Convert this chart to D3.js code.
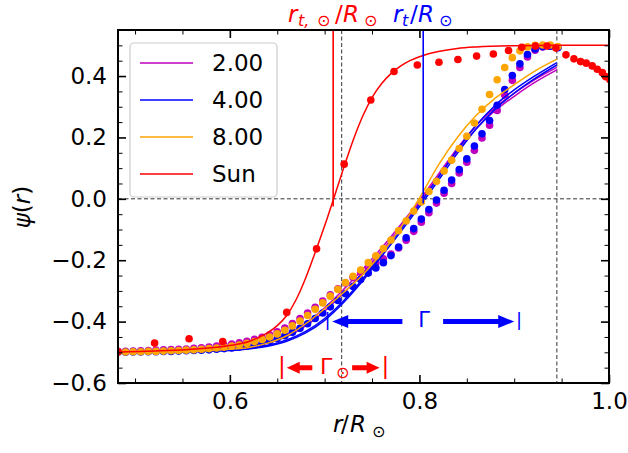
<!DOCTYPE html>
<html>
<head>
<meta charset="utf-8">
<script src="https://cdn.jsdelivr.net/npm/d3@7"></script>
<style>
  body { margin: 0; background: #fff; }
  svg text { font-family: "DejaVu Sans", sans-serif; fill: #000; }
</style>
</head>
<body>
<svg id="chart" width="628" height="453"></svg>
<script>
// radial grid of the model profiles (r / R_sun)
const rGrid = [0.482,0.490,0.498,0.506,0.514,0.522,0.530,0.538,0.546,0.554,
               0.562,0.570,0.578,0.586,0.594,0.602,0.610,0.618,0.626,0.634,
               0.642,0.650,0.658,0.666,0.674,0.682,0.690,0.698,0.706,0.714,
               0.722,0.730,0.738,0.746,0.754,0.762,0.770,0.778,0.786,0.794,
               0.802,0.810,0.818,0.826,0.834,0.842,0.850,0.858,0.866,0.874,
               0.882,0.890,0.898,0.906,0.914,0.922,0.930,0.938,0.946];

// psi(r) of the models (dots)
const psi2 = [-0.497,-0.497,-0.496,-0.495,-0.494,-0.493,-0.492,-0.491,-0.490,-0.489,
              -0.487,-0.485,-0.483,-0.480,-0.477,-0.473,-0.469,-0.464,-0.458,-0.451,
              -0.443,-0.433,-0.421,-0.406,-0.390,-0.372,-0.353,-0.333,-0.313,-0.293,
              -0.274,-0.256,-0.239,-0.223,-0.208,-0.195,-0.180,-0.160,-0.135,-0.106,
              -0.076,-0.045,-0.014,0.018,0.050,0.084,0.119,0.158,0.198,0.240,
              0.288,0.338,0.386,0.428,0.462,0.484,0.495,0.498,0.494];
const psi4 = [-0.500,-0.500,-0.499,-0.499,-0.498,-0.498,-0.497,-0.497,-0.496,-0.495,
              -0.494,-0.493,-0.492,-0.490,-0.488,-0.486,-0.483,-0.479,-0.475,-0.470,
              -0.463,-0.455,-0.446,-0.435,-0.422,-0.407,-0.390,-0.372,-0.352,-0.331,
              -0.309,-0.286,-0.263,-0.242,-0.225,-0.208,-0.185,-0.157,-0.127,-0.097,
              -0.066,-0.035,-0.004,0.028,0.061,0.095,0.130,0.172,0.212,0.255,
              0.305,0.356,0.402,0.440,0.470,0.488,0.496,0.497,0.492];
const psi8 = [-0.499,-0.499,-0.498,-0.498,-0.497,-0.497,-0.496,-0.495,-0.494,-0.493,
              -0.492,-0.490,-0.488,-0.486,-0.483,-0.480,-0.476,-0.471,-0.465,-0.458,
              -0.450,-0.440,-0.428,-0.414,-0.398,-0.380,-0.360,-0.339,-0.317,-0.295,
              -0.273,-0.252,-0.232,-0.208,-0.186,-0.162,-0.134,-0.104,-0.072,-0.040,
              -0.010,0.024,0.057,0.091,0.126,0.164,0.204,0.247,0.292,0.340,
              0.388,0.428,0.460,0.482,0.495,0.500,0.501,0.501,0.496];

// fitted profiles (solid lines)
const rFit = [0.482,0.52,0.56,0.60,0.62,0.64,0.66,0.68,0.70,0.72,0.74,0.76,0.78,0.80,0.82,0.84,0.86,0.88,0.90,0.92,0.945];
const fit2a = [-0.498,-0.497,-0.494,-0.486,-0.478,-0.465,-0.442,-0.405,-0.355,-0.295,-0.230,-0.160,-0.085,-0.005,0.080,0.165,0.240,0.298,0.344,0.385,0.428];
const fit2b = [-0.499,-0.498,-0.496,-0.489,-0.482,-0.470,-0.449,-0.414,-0.366,-0.307,-0.242,-0.170,-0.093,-0.012,0.072,0.155,0.229,0.288,0.334,0.376,0.420];
const fit4a = [-0.500,-0.499,-0.497,-0.492,-0.487,-0.477,-0.460,-0.432,-0.390,-0.332,-0.262,-0.180,-0.100,-0.018,0.070,0.160,0.240,0.305,0.355,0.397,0.444];
const fit4b = [-0.500,-0.500,-0.498,-0.494,-0.489,-0.480,-0.464,-0.437,-0.396,-0.338,-0.268,-0.188,-0.108,-0.026,0.060,0.148,0.228,0.293,0.344,0.388,0.436];
const fit8 = [-0.500,-0.499,-0.497,-0.490,-0.484,-0.470,-0.446,-0.407,-0.358,-0.305,-0.248,-0.178,-0.095,0.002,0.110,0.200,0.272,0.328,0.372,0.413,0.455];

// the Sun: fit and helioseismic points
const sunFitR = [0.482,0.52,0.56,0.60,0.62,0.63,0.64,0.65,0.66,0.67,0.68,0.69,0.70,0.71,0.72,0.73,0.74,0.75,0.76,0.77,0.78,0.79,0.80,0.82,0.84,0.86,0.90,0.95,1.00];
const sunFit = [-0.499,-0.496,-0.490,-0.478,-0.465,-0.452,-0.436,-0.413,-0.380,-0.328,-0.258,-0.175,-0.088,0.005,0.100,0.190,0.268,0.330,0.375,0.408,0.432,0.450,0.463,0.480,0.490,0.495,0.499,0.500,0.500];
const sunR = [0.482,0.5206,0.557,0.5925,0.660,0.6915,0.7206,0.7487,0.7732,0.7978,0.8206,0.8406,0.8603,0.878,0.894,0.908,0.9224,0.9346,0.944,0.9546,0.963,0.970,0.976,0.9823,0.9876,0.993,0.9965,1.001];
const sunPsi = [-0.498,-0.470,-0.456,-0.465,-0.370,-0.163,0.113,0.322,0.415,0.436,0.445,0.454,0.465,0.472,0.483,0.494,0.498,0.498,0.491,0.469,0.456,0.447,0.442,0.433,0.422,0.411,0.398,0.388];

const legendLabels = ["2.00", "4.00", "8.00", "Sun"];
const xTicks = [0.6, 0.8, 1.0];
const xMinor = [0.5, 0.55, 0.65, 0.7, 0.75, 0.85, 0.9, 0.95];
const yTicks = [-0.6, -0.4, -0.2, 0.0, 0.2, 0.4];
const yMinor = [-0.55, -0.5, -0.45, -0.35, -0.3, -0.25, -0.15, -0.1, -0.05, 0.05, 0.1, 0.15, 0.25, 0.3, 0.35, 0.45, 0.5];

const rtSun = 0.709, rtModel = 0.804;   // where psi = 0
const rTacho = 0.718, rEdge = 0.945;    // dashed reference radii

const colM = "#bf00bf", colB = "#0000ff", colO = "#ffa500", colR = "#ff0000";

const svg = d3.select("#chart");
const pL = 118, pR = 609, pT = 30, pB = 383;

const x = d3.scaleLinear().domain([0.482, 1.0]).range([pL, pR]);
const y = d3.scaleLinear().domain([-0.6, 0.55]).range([pB, pT]);

svg.append("defs").append("clipPath").attr("id", "plotclip")
    .append("rect").attr("x", pL).attr("y", pT)
    .attr("width", pR - pL).attr("height", pB - pT);

const plot = svg.append("g").attr("clip-path", "url(#plotclip)");

// dashed reference lines
plot.append("line")
    .attr("x1", pL).attr("x2", pR).attr("y1", y(0)).attr("y2", y(0))
    .attr("stroke", "#333").attr("stroke-width", 1).attr("stroke-dasharray", "4,2.5");
[rTacho, rEdge].forEach(r => {
    plot.append("line")
        .attr("x1", x(r)).attr("x2", x(r)).attr("y1", pT).attr("y2", pB)
        .attr("stroke", "#333").attr("stroke-width", 1).attr("stroke-dasharray", "4,2.5");
});

const line = d3.line().x(d => x(d[0])).y(d => y(d[1])).curve(d3.curveMonotoneX);

function drawModel(dots, fits, color) {
    plot.append("g").selectAll("circle")
        .data(rGrid.map((r, i) => [r, dots[i]]))
        .enter().append("circle")
        .attr("cx", d => x(d[0])).attr("cy", d => y(d[1]))
        .attr("r", 3.8).attr("fill", color);
    fits.forEach(f => {
        plot.append("path")
            .datum(rFit.map((r, i) => [r, f[i]]))
            .attr("d", line).attr("fill", "none")
            .attr("stroke", color).attr("stroke-width", 1.5);
    });
}

drawModel(psi2, [fit2a, fit2b], colM);
drawModel(psi4, [fit4a, fit4b], colB);
drawModel(psi8, [fit8], colO);

// Sun
plot.append("path")
    .datum(sunFitR.map((r, i) => [r, sunFit[i]]))
    .attr("d", line).attr("fill", "none")
    .attr("stroke", colR).attr("stroke-width", 1.5);
plot.append("g").selectAll("circle")
    .data(sunR.map((r, i) => [r, sunPsi[i]]))
    .enter().append("circle")
    .attr("cx", d => x(d[0])).attr("cy", d => y(d[1]))
    .attr("r", 3.8).attr("fill", colR);

// transition radii
plot.append("line").attr("x1", x(rtSun)).attr("x2", x(rtSun))
    .attr("y1", pT).attr("y2", y(-0.025))
    .attr("stroke", colR).attr("stroke-width", 1.6);
plot.append("line").attr("x1", x(rtModel)).attr("x2", x(rtModel))
    .attr("y1", pT).attr("y2", y(-0.015))
    .attr("stroke", colB).attr("stroke-width", 1.6);

// width arrows
function arrow(x0, x1, yv, color, w, h, hl) {
    const px0 = x(x0), px1 = x(x1), py = y(yv);
    const dir = Math.sign(px1 - px0);
    const hb = px1 - dir * hl;
    const pts = [[px0, py - w], [hb, py - w], [hb, py - h], [px1, py],
                 [hb, py + h], [hb, py + w], [px0, py + w]];
    svg.append("polygon").attr("points", pts.map(p => p.join(",")).join(" "))
        .attr("fill", color);
}
function bar(xv, yv, size, color) {
    svg.append("text").attr("x", x(xv)).attr("y", y(yv) + 0.262 * size)
        .attr("text-anchor", "middle").style("font-size", size + "px")
        .style("fill", color).text("|");
}

// model width Gamma
bar(0.703, -0.40, 18, colB);
bar(0.905, -0.40, 18, colB);
arrow(0.782, 0.708, -0.40, colB, 2.5, 6.5, 16);
arrow(0.825, 0.900, -0.40, colB, 2.5, 6.5, 16);
svg.append("text").attr("x", x(0.805)).attr("y", y(-0.40) + 5.5)
    .attr("text-anchor", "middle").style("font-size", "21px").style("fill", colB).text("Γ");

// solar width Gamma_sun
bar(0.655, -0.55, 23, colR);
bar(0.764, -0.55, 23, colR);
arrow(0.687, 0.660, -0.55, colR, 2.5, 6, 13);
arrow(0.729, 0.758, -0.55, colR, 2.5, 6, 13);
svg.append("text").attr("x", 320).attr("y", 373.5)
    .style("font-size", "22px").style("fill", colR).text("Γ");
svg.append("text").attr("x", 336).attr("y", 378)
    .style("font-size", "16px").style("fill", colR).text("⊙");

// axes with inward ticks on all sides
function styleAxis(g) {
    g.select(".domain").remove();
    g.selectAll(".tick line").attr("stroke", "#000");
    g.selectAll("text").style("font-size", "23px").style("fill", "#000")
        .style("font-family", "DejaVu Sans");
}
const fmt = d3.format(".1f");
const minus = d => fmt(d).replace("-", "\u2212");

svg.append("g").attr("transform", `translate(0,${pB})`)
    .call(d3.axisBottom(x).tickValues(xTicks).tickSize(-8).tickPadding(10).tickFormat(fmt))
    .call(styleAxis).selectAll(".tick line").attr("stroke-width", 1.6);
svg.append("g").attr("transform", `translate(0,${pB})`)
    .call(d3.axisBottom(x).tickValues(xMinor).tickSize(-4.5).tickFormat(""))
    .call(styleAxis);
svg.append("g").attr("transform", `translate(0,${pT})`)
    .call(d3.axisTop(x).tickValues(xTicks).tickSize(-8).tickFormat(""))
    .call(styleAxis).selectAll(".tick line").attr("stroke-width", 1.6);
svg.append("g").attr("transform", `translate(0,${pT})`)
    .call(d3.axisTop(x).tickValues(xMinor).tickSize(-4.5).tickFormat(""))
    .call(styleAxis);

svg.append("g").attr("transform", `translate(${pL},0)`)
    .call(d3.axisLeft(y).tickValues(yTicks).tickSize(-8).tickPadding(11).tickFormat(minus))
    .call(styleAxis).selectAll(".tick line").attr("stroke-width", 1.6);
svg.append("g").attr("transform", `translate(${pL},0)`)
    .call(d3.axisLeft(y).tickValues(yMinor).tickSize(-4.5).tickFormat(""))
    .call(styleAxis);
svg.append("g").attr("transform", `translate(${pR},0)`)
    .call(d3.axisRight(y).tickValues(yTicks).tickSize(-8).tickFormat(""))
    .call(styleAxis).selectAll(".tick line").attr("stroke-width", 1.6);
svg.append("g").attr("transform", `translate(${pR},0)`)
    .call(d3.axisRight(y).tickValues(yMinor).tickSize(-4.5).tickFormat(""))
    .call(styleAxis);

// frame
svg.append("rect").attr("x", pL).attr("y", pT)
    .attr("width", pR - pL).attr("height", pB - pT)
    .attr("fill", "none").attr("stroke", "#000").attr("stroke-width", 2);

// legend
const legend = svg.append("g");
legend.append("rect").attr("x", 130).attr("y", 43).attr("width", 147).attr("height", 154)
    .attr("rx", 4).attr("fill", "#fff").attr("fill-opacity", 0.8)
    .attr("stroke", "#ccc").attr("stroke-width", 1.2);
const legendColors = [colM, colB, colO, colR];
legendLabels.forEach((lab, i) => {
    const ly = 63 + i * 37;
    legend.append("line").attr("x1", 140).attr("x2", 193).attr("y1", ly).attr("y2", ly)
        .attr("stroke", legendColors[i]).attr("stroke-width", 1.5);
    legend.append("text").attr("x", 212).attr("y", ly + 8.4)
        .style("font-size", "23px").text(lab);
});

// math labels
function piece(px, py, str, size, color, italic) {
    svg.append("text").attr("x", px).attr("y", py)
        .style("font-size", size + "px").style("fill", color)
        .style("font-style", italic ? "italic" : "normal").text(str);
}
// r_{t,sun}/R_sun
piece(288, 22, "r", 23, colR, true);
piece(298, 26, "t,", 16, colR, true);
piece(317, 26, "⊙", 16, colR, false);
piece(335, 22, "/", 23, colR, false);
piece(343, 22, "R", 23, colR, true);
piece(364, 26, "⊙", 16, colR, false);
// r_t/R_sun
piece(393, 22, "r", 23, colB, true);
piece(402, 26, "t", 16, colB, true);
piece(410, 22, "/", 23, colB, false);
piece(418, 22, "R", 23, colB, true);
piece(439, 26, "⊙", 16, colB, false);
// x label
piece(333, 432, "r", 23, "#000", true);
piece(341, 432, "/", 23, "#000", false);
piece(350, 432, "R", 23, "#000", true);
piece(372, 437, "⊙", 16, "#000", false);

// y label
const yl = svg.append("text").attr("transform", "translate(30,207) rotate(-90)")
    .attr("text-anchor", "middle").style("font-size", "23px");
yl.append("tspan").style("font-style", "italic").text("ψ");
yl.append("tspan").text("(");
yl.append("tspan").style("font-style", "italic").text("r");
yl.append("tspan").text(")");
</script>
</body>
</html>
